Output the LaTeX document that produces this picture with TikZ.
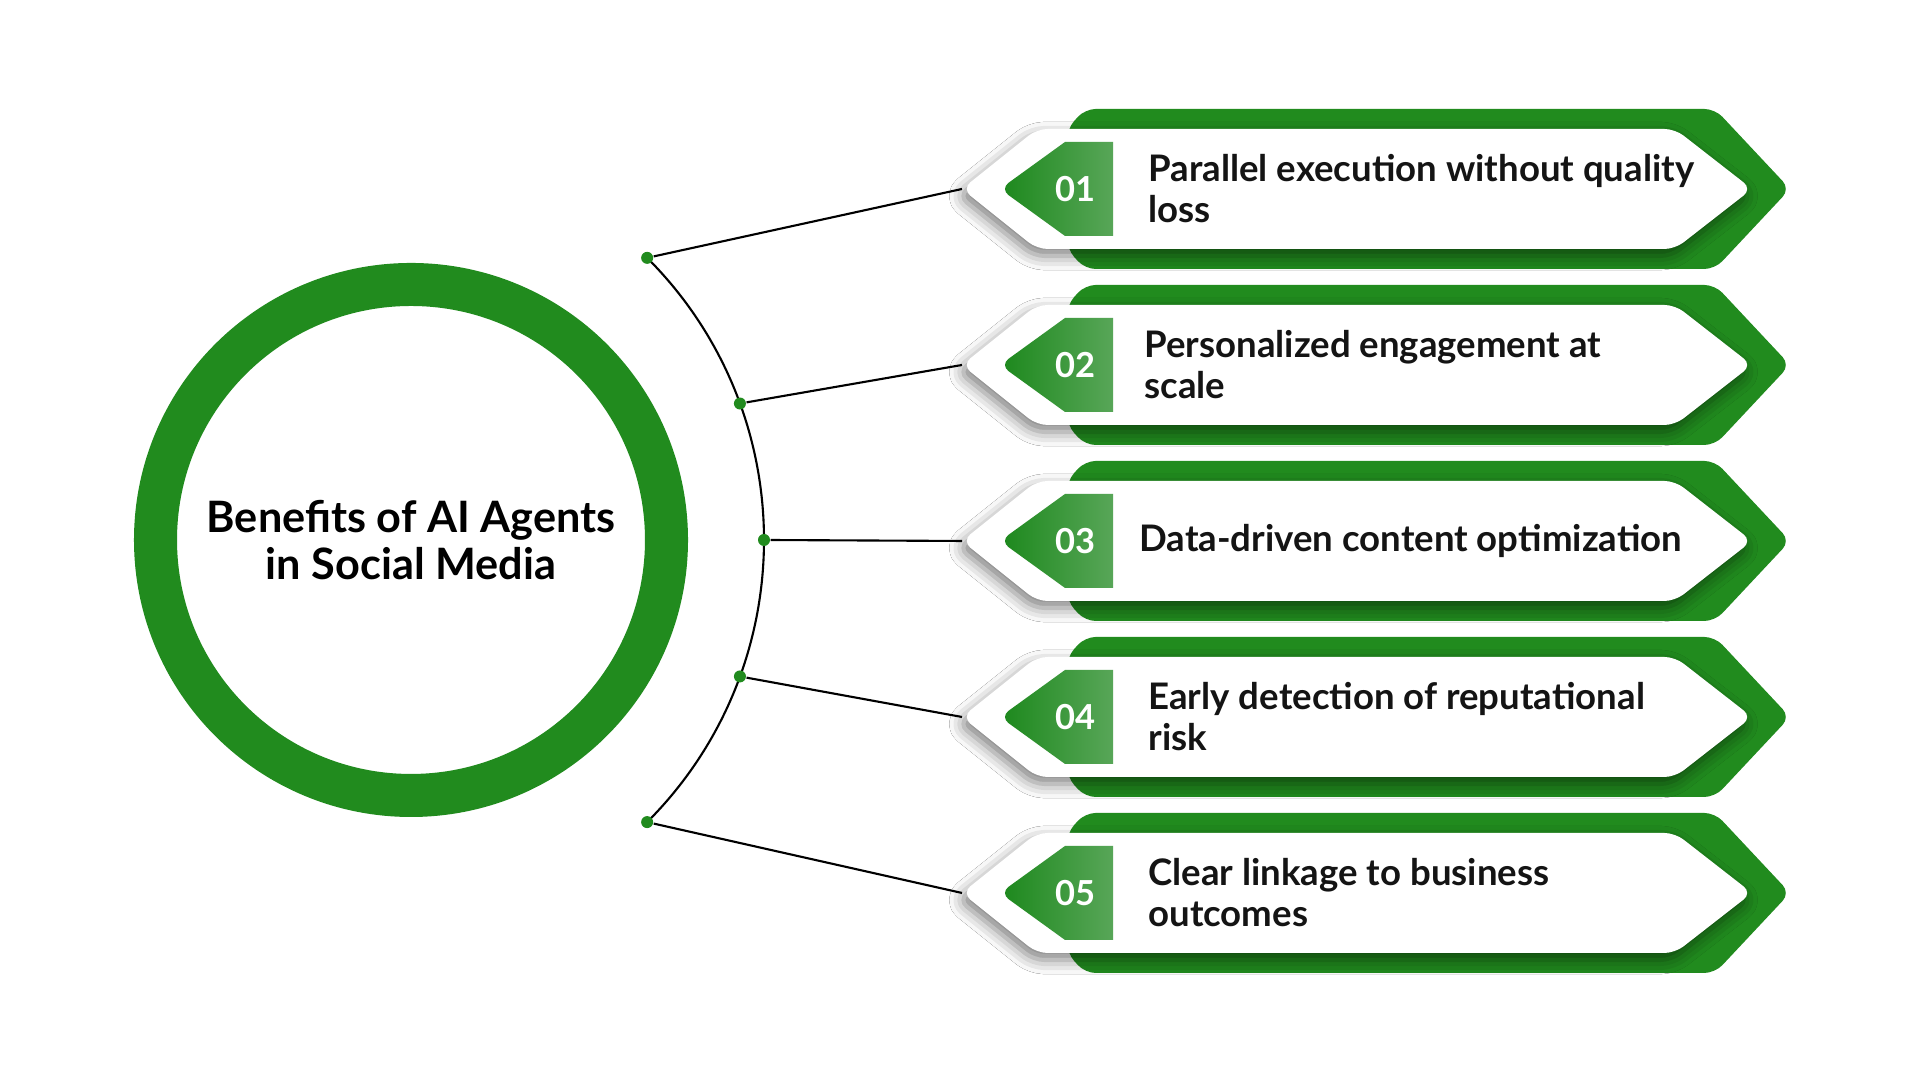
\documentclass[tikz,border=0pt]{standalone}
\usepackage{fontspec}
\setmainfont{Lato}
\usepackage{xcolor}
\usepackage{tikz}
\usetikzlibrary{shadows.blur}
\definecolor{agentgreen}{RGB}{33,139,30}
\definecolor{tabdark}{RGB}{28,136,28}
\definecolor{tablight}{RGB}{88,166,88}

\begin{document}
\begin{tikzpicture}[x=0.01cm,y=0.01cm,
  dot/.style={circle,fill=agentgreen,inner sep=0pt,minimum size=0.12cm},
  item/.style={anchor=west,align=left,text=black!92,font=\fontsize{10.4}{11.7}\selectfont\bfseries},
  num/.style={text=white,font=\fontsize{9.8}{11}\selectfont\bfseries},
  soft/.style={blur shadow={shadow xshift=-1pt,shadow yshift=-2pt,shadow blur radius=4pt,shadow opacity=50}}]
\useasboundingbox[fill=white] (0,0) rectangle (1920,1080);
\draw[agentgreen,line width=0.43cm] (411,540) circle (255.5);
\node[align=center,font=\fontsize{12.3}{13.6}\selectfont\bfseries] (title) at (411,540) {Benefits of AI Agents\\in Social Media};
\coordinate (hub) at (365,540);
\draw[black,semithick] ([shift={(45:399)}]hub) arc (45:-45:399);
\foreach \i/\a/\tx/\txt in {1/45/1136/{Parallel execution without quality\\loss},
                        2/20/1132/{Personalized engagement at\\scale},
                        3/0/1127/{Data-driven content optimization},
                        4/-20/1136/{Early detection of reputational\\risk},
                        5/-45/1136/{Clear linkage to business\\outcomes}} {
  \pgfmathsetmacro\c{891-176*(\i-1)}
  \node[dot] (d\i) at ([shift={(\a:399)}]hub) {};
  \coordinate (tip\i) at (962,\c);
  \draw[black,semithick] (d\i) -- (tip\i);
  \fill[agentgreen,rounded corners=3pt] (1067,\c+60) -- (1085,\c+80) -- (1715,\c+80) -- (1790,\c) -- (1715,\c-80) -- (1085,\c-80) -- (1067,\c-60) -- cycle;
  \fill[white,rounded corners=3pt,soft] (tip\i) -- (1037,\c+60) -- (1675,\c+60) -- (1752,\c) -- (1675,\c-60) -- (1037,\c-60) -- cycle;
  \shade[left color=tabdark,right color=tablight] (1113,\c-47) -- (1113,\c+47) -- (1065,\c+47) [rounded corners=3pt] -- (1000,\c) [sharp corners] -- (1065,\c-47) -- cycle;
  \node[num] (n\i) at (1075,\c) {0\i};
  \node[item] (b\i) at (\tx,\c) {\txt};
}
\end{tikzpicture}
\end{document}
